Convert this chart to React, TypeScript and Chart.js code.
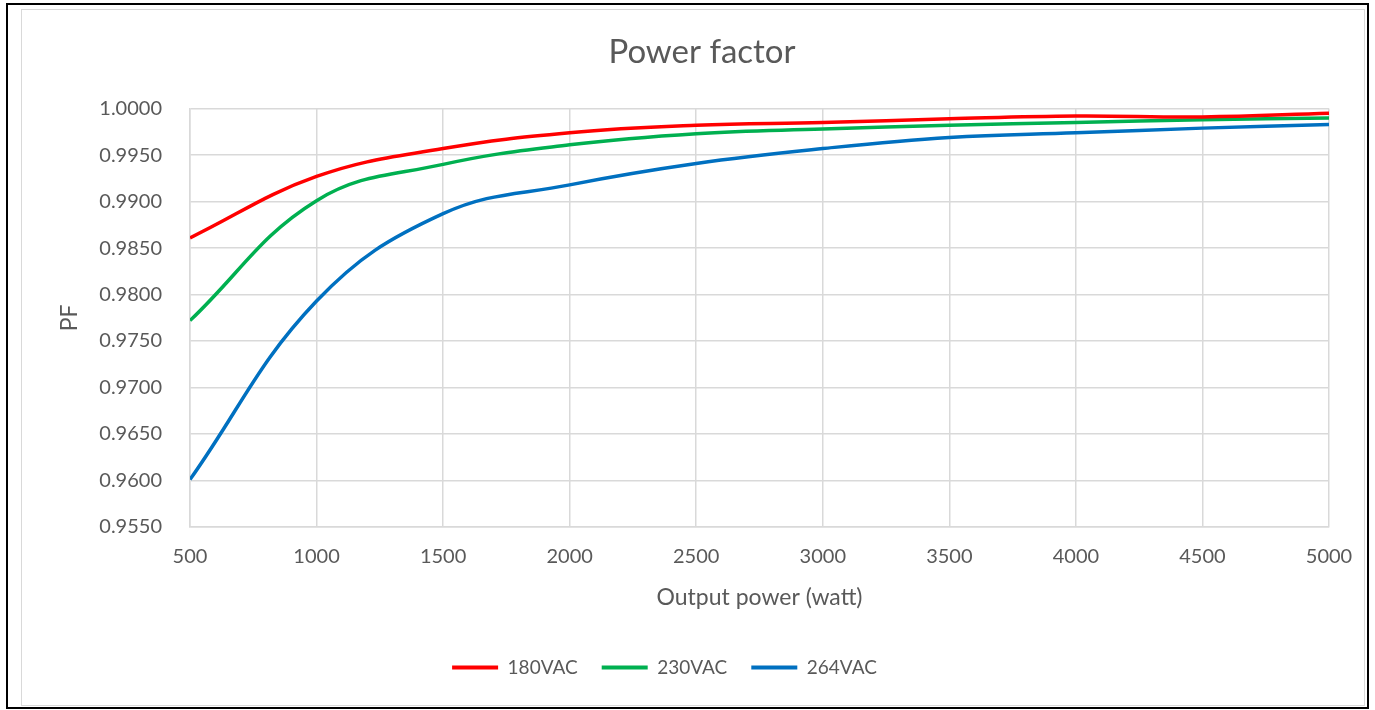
import React, { useEffect, useRef } from "react";
import { Chart, registerables } from "chart.js";

Chart.register(...registerables);

const outputPower = [500, 1000, 1500, 2000, 2500, 3000, 3500, 4000, 4500, 5000];
const pf180 = [0.9861, 0.9927, 0.9957, 0.9974, 0.9982, 0.9985, 0.9989, 0.9992, 0.9991, 0.9995];
const pf230 = [0.9772, 0.9901, 0.994, 0.9961, 0.9973, 0.9978, 0.9982, 0.9985, 0.9988, 0.999];
const pf264 = [0.9601, 0.9793, 0.9887, 0.9918, 0.9941, 0.9957, 0.9969, 0.9974, 0.9979, 0.9983];
const seriesNames = ["180VAC", "230VAC", "264VAC"];
const seriesColors = ["#FF0000", "#00B050", "#0070C0"];

const FONT = "Lato, 'Open Sans', sans-serif";
const TEXT = "#595959";
const GRID = "#D9D9D9";

const shiftTitle = {
  id: "shiftTitle",
  afterLayout(chart: any) {
    const t = chart.titleBlock;
    if (t) {
      const dx = 702 - (t.left + t.right) / 2;
      t.left += dx;
      t.right += dx;
    }
  },
};

export default function App() {
  const ref = useRef<HTMLCanvasElement | null>(null);

  useEffect(() => {
    if (!ref.current) return;
    const all = [pf180, pf230, pf264];
    const chart = new Chart(ref.current, {
      type: "line",
      data: {
        datasets: all.map((vals, i) => ({
          label: seriesNames[i],
          data: outputPower.map((x, j) => ({ x, y: vals[j] })),
          borderColor: seriesColors[i],
          backgroundColor: seriesColors[i],
          borderWidth: 3.5,
          pointRadius: 0,
          tension: 0.4,
          fill: false,
        })),
      },
      plugins: [shiftTitle],
      options: {
        animation: false,
        responsive: false,
        maintainAspectRatio: false,
        layout: { padding: { left: 0, right: 46, top: 0, bottom: 23 } },
        plugins: {
          tooltip: { enabled: false },
          title: {
            display: true,
            text: "Power factor",
            color: TEXT,
            font: { family: FONT, size: 33, weight: "normal" },
            padding: { top: 33, bottom: 36 },
          },
          legend: {
            position: "bottom",
            labels: {
              color: TEXT,
              font: { family: FONT, size: 19 },
              boxWidth: 46,
              boxHeight: 4,
              padding: 24,
              generateLabels: (ch: any) => {
                const items = Chart.defaults.plugins.legend.labels.generateLabels(ch);
                return items.map((it: any) => ({ ...it, lineWidth: 0, strokeStyle: it.fillStyle }));
              },
            },
          },
        },
        scales: {
          x: {
            type: "linear",
            min: 500,
            max: 5000,
            afterFit: (axis: any) => {
              axis.height = 107;
            },
            ticks: {
              stepSize: 500,
              color: TEXT,
              font: { family: FONT, size: 20 },
              padding: 18,
              maxRotation: 0,
              callback: (v: any) => String(v),
            },
            grid: { color: GRID, lineWidth: 1.5, drawTicks: false },
            border: { color: GRID, width: 1.5 },
            title: {
              display: true,
              text: "Output power (watt)",
              color: TEXT,
              font: { family: FONT, size: 23 },
              padding: { top: 0, bottom: 23 },
            },
          },
          y: {
            min: 0.955,
            max: 1.0,
            afterFit: (axis: any) => {
              axis.width = 190;
            },
            ticks: {
              stepSize: 0.005,
              color: TEXT,
              font: { family: FONT, size: 20 },
              padding: 28,
              callback: (v: any) => Number(v).toFixed(4),
            },
            grid: { color: GRID, lineWidth: 1.5, drawTicks: false },
            border: { color: GRID, width: 1.5 },
            title: {
              display: true,
              text: "PF",
              color: TEXT,
              font: { family: FONT, size: 23 },
              padding: { top: 56, bottom: 0 },
            },
          },
        },
      },
    });
    return () => chart.destroy();
  }, []);

  return (
    <div style={{ position: "fixed", left: 0, top: 0, width: 1375, height: 710, background: "#fff" }}>
      <canvas
        ref={ref}
        width={1375}
        height={710}
        style={{ position: "absolute", left: 0, top: 0, width: 1375, height: 710 }}
      />
      <div
        style={{
          position: "absolute",
          left: 21,
          top: 9,
          width: 1344,
          height: 697,
          border: "1.5px solid #D9D9D9",
          boxSizing: "border-box",
          pointerEvents: "none",
        }}
      />
      <div
        style={{
          position: "absolute",
          left: 6,
          top: 3,
          width: 1363,
          height: 706,
          border: "2px solid #000",
          boxSizing: "border-box",
          pointerEvents: "none",
        }}
      />
    </div>
  );
}
